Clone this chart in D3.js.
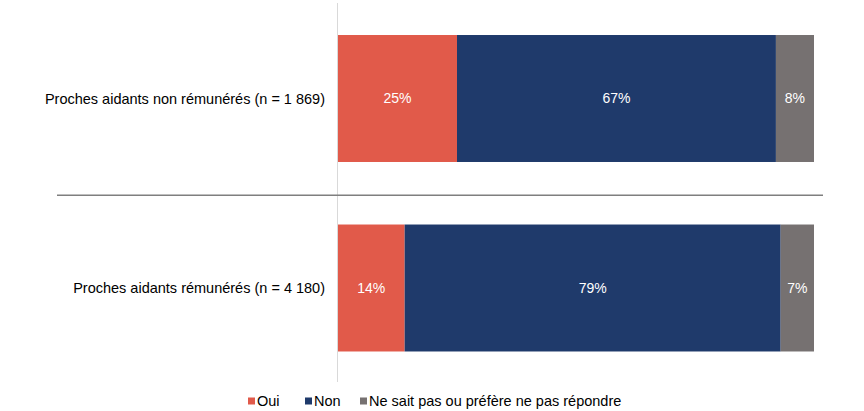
<!DOCTYPE html>
<html><head><meta charset="utf-8">
<script src="https://cdn.jsdelivr.net/npm/d3@7"></script>
<style>body{margin:0;background:#fff}svg{display:block;font-family:"Liberation Sans",Arial,sans-serif}</style>
</head><body><svg id="c" width="864" height="411"></svg>
<script>
const categories = ["Proches aidants non rémunérés (n = 1 869)", "Proches aidants rémunérés (n = 4 180)"];
const seriesNames = ["Oui", "Non", "Ne sait pas ou préfère ne pas répondre"];
const oui = [25, 14];
const non = [67, 79];
const nsp = [8, 7];
const colors = ["#E15A4A", "#1F3A6B", "#767171"];

const svg = d3.select("#c");
const x0 = 338, x1 = 814;
const x = d3.scaleLinear().domain([0, 100]).range([x0, x1]);
const y = d3.scaleBand().domain(categories).range([3.75, 382.75]).paddingInner(0.33).paddingOuter(0.165);

const rows = categories.map((c, i) => ({cat: c, vals: [oui[i], non[i], nsp[i]]}));

// axis line
svg.append("line").attr("x1", x0 - 0.5).attr("x2", x0 - 0.5).attr("y1", 3).attr("y2", 382)
  .attr("stroke", "#d9d9d9").attr("stroke-width", 1);

// separator
const sepY = (y(categories[0]) + y.bandwidth() + y(categories[1])) / 2 + 2;
svg.append("line").attr("x1", 57).attr("x2", 823).attr("y1", sepY).attr("y2", sepY)
  .attr("stroke", "#7f7f7f").attr("stroke-width", 1.3);

rows.forEach(r => {
  let acc = 0;
  r.vals.forEach((v, j) => {
    const xa = x(acc), xb = x(acc + v);
    svg.append("rect").attr("x", xa).attr("y", y(r.cat)).attr("width", xb - xa)
      .attr("height", y.bandwidth()).attr("fill", colors[j]);
    svg.append("text").attr("x", (xa + xb) / 2).attr("y", y(r.cat) + y.bandwidth() / 2)
      .attr("dy", "0.35em").attr("text-anchor", "middle").attr("fill", "#fff")
      .attr("font-size", 14).text(v + "%");
    acc += v;
  });
  svg.append("text").attr("x", 325).attr("y", y(r.cat) + y.bandwidth() / 2)
    .attr("dy", "0.35em").attr("text-anchor", "end").attr("fill", "#000")
    .attr("font-size", 14.5).text(r.cat);
});

// legend
const legX = [248, 305, 360];
seriesNames.forEach((s, j) => {
  svg.append("rect").attr("x", legX[j]).attr("y", 397.5).attr("width", 7).attr("height", 7).attr("fill", colors[j]);
  svg.append("text").attr("x", legX[j] + 9).attr("y", 401).attr("dy", "0.35em")
    .attr("font-size", 14.5).attr("fill", "#000").text(s);
});
</script></body></html>
